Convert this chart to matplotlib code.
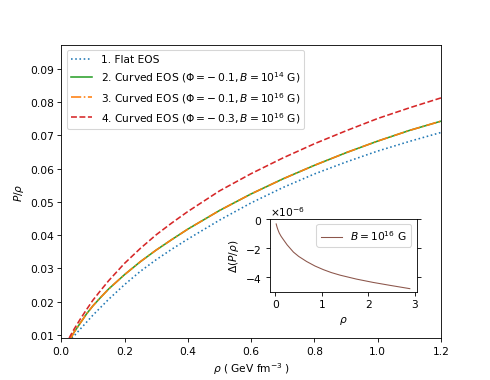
import matplotlib.pyplot as plt
from matplotlib.ticker import ScalarFormatter

# Datos
rho_flat = [0.033, 0.04, 0.06, 0.08, 0.1, 0.125, 0.15, 0.2, 0.25, 0.3, 0.35, 0.4, 0.5, 0.6,
            0.7, 0.8, 0.9, 1.0, 1.1, 1.2]
pr_flat = [0.0090, 0.0096, 0.0117, 0.0138, 0.0159, 0.0183, 0.0207, 0.0251, 0.0291, 0.0326,
           0.0358, 0.0388, 0.0445, 0.0497, 0.0543, 0.0584, 0.0620, 0.0653, 0.0682, 0.0709]

rho_curv = [0.03, 0.04, 0.06, 0.08, 0.1, 0.125, 0.15, 0.2, 0.25, 0.3, 0.35, 0.4, 0.5, 0.6,
            0.7, 0.8, 0.9, 1.0, 1.1, 1.2]
pr_c1 = [0.0089, 0.0107, 0.0135, 0.0163, 0.0187, 0.0213, 0.0238, 0.0281, 0.0320, 0.0355,
         0.0387, 0.0418, 0.0474, 0.0524, 0.0569, 0.0610, 0.0648, 0.0683, 0.0715, 0.0743]
pr_c2 = [0.0089, 0.0107, 0.0135, 0.0163, 0.0187, 0.0213, 0.0238, 0.0281, 0.0320, 0.0355,
         0.0387, 0.0418, 0.0474, 0.0524, 0.0569, 0.0610, 0.0648, 0.0683, 0.0715, 0.0743]

rho_c3 = [0.025, 0.03, 0.04, 0.06, 0.08, 0.1, 0.125, 0.15, 0.2, 0.25, 0.3, 0.35, 0.4, 0.5,
          0.6, 0.7, 0.8, 0.9, 1.0, 1.1, 1.2]
pr_c3 = [0.0090, 0.0099, 0.0116, 0.0147, 0.0176, 0.0204, 0.0234, 0.0263, 0.0315, 0.0360,
         0.0401, 0.0437, 0.0471, 0.0533, 0.0585, 0.0632, 0.0675, 0.0714, 0.0751, 0.0783, 0.0813]

# Diferencia Delta(P/rho) en unidades de 1e-6
rho_diff = [0.015, 0.03, 0.05, 0.08, 0.12, 0.17, 0.25, 0.386, 0.5, 0.67, 0.85, 1.03, 1.2,
            1.39, 1.74, 2.1, 2.46, 2.89]
diff = [-0.34, -0.52, -0.72, -0.96, -1.19, -1.42, -1.78, -2.28, -2.58, -2.93, -3.24, -3.49,
        -3.69, -3.87, -4.14, -4.37, -4.57, -4.80]

etiquetas = ['1. Flat EOS',
             r'2. Curved EOS ($\Phi=-\,0.1, B=10^{14}$ G)',
             r'3. Curved EOS ($\Phi=-\,0.1, B=10^{16}$ G)',
             r'4. Curved EOS ($\Phi=-\,0.3, B=10^{16}$ G)']

fig = plt.figure(figsize=(6.4, 4.976), dpi=76.5625)
ax = fig.add_subplot(111)

ax.plot(rho_flat, pr_flat, ':', color='tab:blue', linewidth=1.5, label=etiquetas[0])
ax.plot(rho_curv, pr_c1, '-', color='tab:green', linewidth=1.5, label=etiquetas[1])
ax.plot(rho_curv, pr_c2, '-.', color='tab:orange', linewidth=1.5, label=etiquetas[2])
ax.plot(rho_c3, pr_c3, '--', color='tab:red', linewidth=1.5, label=etiquetas[3])

ax.set_xlim(0, 1.2)
ax.set_ylim(0.009, 0.0973)
ax.set_xlabel(r'$\rho$ ( GeV fm$^{-3}$ )')
ax.set_ylabel(r'$P/\rho$')
ax.legend(loc='upper left')

# Grafica insertada
ins = fig.add_axes([0.55, 0.231, 0.30, 0.1916])
ins.plot(rho_diff, [d * 1e-6 for d in diff], color='tab:brown', linewidth=1,
         label=r'$B=10^{16}$ G')
ins.set_ylim(-5.03e-6, 0)
ins.set_xticks([0, 1, 2, 3])
ins.set_yticks([0, -2e-6, -4e-6])
fmt = ScalarFormatter(useMathText=True)
fmt.set_powerlimits((0, 0))
ins.yaxis.set_major_formatter(fmt)
ins.tick_params(right=True)
ins.set_xlabel(r'$\rho$')
ins.set_ylabel(r'$\Delta(P/\rho)$')
ins.legend(loc='upper right')

fig.savefig('out.png', dpi=76.5625)
